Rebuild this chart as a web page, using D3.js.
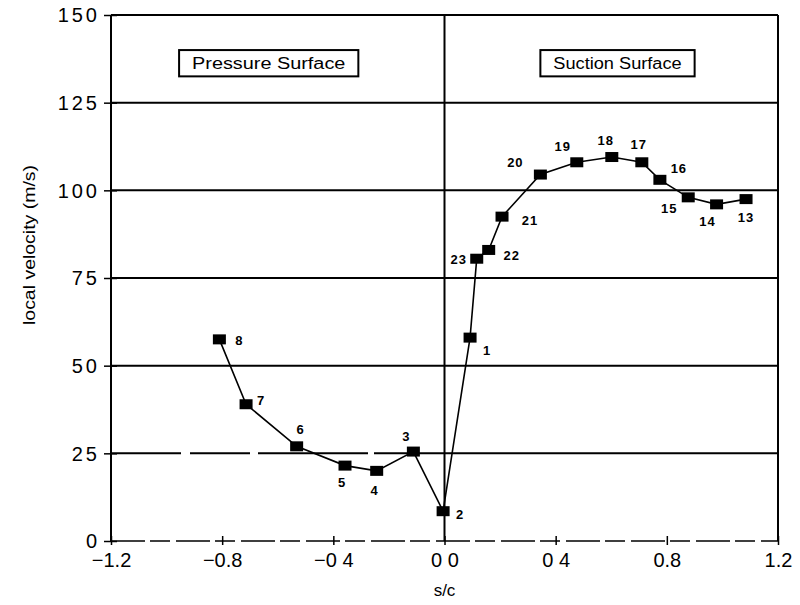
<!DOCTYPE html>
<html>
<head>
<meta charset="utf-8">
<script src="https://cdn.jsdelivr.net/npm/d3@7"></script>
<style>
  body { margin: 0; background: #fff; }
  svg { display: block; }
</style>
</head>
<body>
<script>
// chart data
var pointIds = [8, 7, 6, 5, 4, 3, 2, 1, 23, 22, 21, 20, 19, 18, 17, 16, 15, 14, 13];
var sOverC = [-0.810, -0.714, -0.532, -0.358, -0.244, -0.112, -0.005, 0.092, 0.116, 0.159, 0.207, 0.345, 0.476, 0.602, 0.710, 0.775, 0.877, 0.979, 1.085];
var velocity = [57.5, 39, 27, 21.5, 20, 25.5, 8.5, 58, 80.5, 83, 92.5, 104.5, 108, 109.5, 108, 103, 98, 96, 97.5];

// label offsets (dx, dy) for each point number
var labelOffsets = {
  8: [20, 1], 7: [15, -4], 6: [4, -17], 5: [-3, 17], 4: [-2, 19], 3: [-7, -15],
  2: [17, 3], 1: [17, 13], 23: [-18, 1], 22: [23, 5], 21: [28, 4], 20: [-25, -12],
  19: [-14, -16], 18: [-6, -17], 17: [-3, -18], 16: [19, -11], 15: [-19, 11],
  14: [-9, 17], 13: [0, 18]
};

var xTickValues = [-1.2, -0.8, -0.4, 0, 0.4, 0.8, 1.2];
var xTickLabels = ["\u22121.2", "\u22120.8", "\u22120 4", "0 0", "0 4", "0.8", "1.2"];
var yTickValues = [0, 25, 50, 75, 100, 125, 150];
var yTickLabels = ["0", "25", "50", "75", "100", "125", "150"];
var gridValues = [25, 50, 75, 100, 125];

var surfaceLabels = ["Pressure Surface", "Suction Surface"];

var svgWidth = 800;
var svgHeight = 605;

var margin = { top: 15, right: 22, bottom: 64, left: 111 };

var chartWidth = svgWidth - margin.left - margin.right;
var chartHeight = svgHeight - margin.top - margin.bottom;

var svg = d3.select("body")
  .append("svg")
  .attr("width", svgWidth)
  .attr("height", svgHeight);

var chartGroup = svg.append("g")
  .attr("transform", `translate(${margin.left}, ${margin.top})`);

var xScale = d3.scaleLinear()
  .domain([-1.2, 1.2])
  .range([0, chartWidth]);

var yScale = d3.scaleLinear()
  .domain([0, 150])
  .range([chartHeight, 0]);

// horizontal grid lines (the 25 line is broken in the scan)
chartGroup.selectAll(".grid")
  .data(gridValues)
  .enter()
  .append("line")
  .attr("class", "grid")
  .attr("x1", 0)
  .attr("x2", chartWidth)
  .attr("y1", d => yScale(d))
  .attr("y2", d => yScale(d))
  .attr("stroke", "#000")
  .attr("stroke-width", 2)
  .attr("stroke-dasharray", d => d == 25 ? "70 9 60 8 110 6 2000" : null);

// top border and right border
chartGroup.append("line")
  .attr("x1", 0).attr("x2", chartWidth)
  .attr("y1", yScale(150)).attr("y2", yScale(150))
  .attr("stroke", "#000").attr("stroke-width", 2);

chartGroup.append("line")
  .attr("x1", xScale(1.2)).attr("x2", xScale(1.2))
  .attr("y1", 0).attr("y2", chartHeight)
  .attr("stroke", "#000").attr("stroke-width", 2);

// vertical divider at s/c = 0
chartGroup.append("line")
  .attr("x1", xScale(0)).attr("x2", xScale(0))
  .attr("y1", 0).attr("y2", chartHeight)
  .attr("stroke", "#000").attr("stroke-width", 2);

// left axis
var leftAxis = d3.axisLeft(yScale)
  .tickValues(yTickValues)
  .tickSize(6)
  .tickFormat("");

var yAxisG = chartGroup.append("g").call(leftAxis);
yAxisG.select(".domain").attr("stroke-width", 2).attr("d", `M0,0V${chartHeight}`);
yAxisG.selectAll(".tick line").attr("x1", 6).attr("x2", -7).attr("stroke-width", 1.5);

chartGroup.selectAll(".ylab")
  .data(yTickValues)
  .enter()
  .append("text")
  .attr("class", "ylab")
  .attr("x", -11)
  .attr("y", d => yScale(d))
  .attr("dy", "0.36em")
  .attr("text-anchor", "end")
  .attr("font-family", "Liberation Sans, Arial, sans-serif")
  .attr("font-size", 20)
  .attr("letter-spacing", "3px")
  .text((d, i) => yTickLabels[i]);

// bottom axis
var bottomAxis = d3.axisBottom(xScale)
  .tickValues(xTickValues)
  .tickSize(5)
  .tickFormat((d, i) => xTickLabels[i]);

var xAxisG = chartGroup.append("g")
  .attr("transform", `translate(0, ${chartHeight})`)
  .call(bottomAxis);

xAxisG.select(".domain")
  .attr("d", `M0,0H${chartWidth}`)
  .attr("stroke-width", 1.5)
  .attr("stroke-dasharray", "34 5 20 6");
xAxisG.selectAll(".tick line").attr("y1", -5).attr("y2", 4).attr("stroke-width", 1.5);
xAxisG.selectAll(".tick text")
  .attr("y", 12)
  .attr("dy", "0.71em")
  .attr("font-family", "Liberation Sans, Arial, sans-serif")
  .attr("font-size", 20)
  .attr("fill", "#000");

// axis titles
svg.append("text")
  .attr("x", margin.left + xScale(0))
  .attr("y", 596)
  .attr("text-anchor", "middle")
  .attr("font-family", "Liberation Sans, Arial, sans-serif")
  .attr("font-size", 17)
  .text("s/c");

svg.append("text")
  .attr("transform", "translate(35, 245) rotate(-90)")
  .attr("text-anchor", "middle")
  .attr("font-family", "Liberation Sans Narrow, Liberation Sans, Arial, sans-serif")
  .attr("font-size", 16)
  .attr("textLength", 160)
  .attr("lengthAdjust", "spacingAndGlyphs")
  .text("local velocity  (m/s)");

// surface boxes
var boxes = [
  { x0: -0.955, x1: -0.31, label: surfaceLabels[0] },
  { x0: 0.345, x1: 0.9, label: surfaceLabels[1] }
];
var boxTop = 140;
var boxBottom = 132.5;

boxes.forEach(function (b) {
  chartGroup.append("rect")
    .attr("x", xScale(b.x0))
    .attr("y", yScale(boxTop))
    .attr("width", xScale(b.x1) - xScale(b.x0))
    .attr("height", yScale(boxBottom) - yScale(boxTop))
    .attr("fill", "#fff")
    .attr("stroke", "#000")
    .attr("stroke-width", 2);
  chartGroup.append("text")
    .attr("x", (xScale(b.x0) + xScale(b.x1)) / 2)
    .attr("y", (yScale(boxTop) + yScale(boxBottom)) / 2)
    .attr("dy", "0.36em")
    .attr("text-anchor", "middle")
    .attr("font-family", "Liberation Sans Narrow, Liberation Sans, Arial, sans-serif")
    .attr("font-size", 16)
    .attr("textLength", (xScale(b.x1) - xScale(b.x0)) - 26)
    .attr("lengthAdjust", "spacingAndGlyphs")
    .text(b.label);
});

// build point records
var points = pointIds.map(function (id, i) {
  return { id: id, s: sOverC[i], v: velocity[i] };
});

var line = d3.line()
  .x(d => xScale(d.s))
  .y(d => yScale(d.v));

chartGroup.append("path")
  .datum(points)
  .attr("d", line)
  .attr("fill", "none")
  .attr("stroke", "#000")
  .attr("stroke-width", 1.6);

chartGroup.selectAll(".marker")
  .data(points)
  .enter()
  .append("rect")
  .attr("class", "marker")
  .attr("x", d => xScale(d.s) - 6.5)
  .attr("y", d => yScale(d.v) - 5)
  .attr("width", 13)
  .attr("height", 10)
  .attr("fill", "#000");

chartGroup.selectAll(".ptlabel")
  .data(points)
  .enter()
  .append("text")
  .attr("class", "ptlabel")
  .attr("x", d => xScale(d.s) + labelOffsets[d.id][0])
  .attr("y", d => yScale(d.v) + labelOffsets[d.id][1])
  .attr("dy", "0.36em")
  .attr("text-anchor", "middle")
  .attr("font-family", "Liberation Sans, Arial, sans-serif")
  .attr("font-weight", "bold")
  .attr("font-size", 13)
  .attr("letter-spacing", "1px")
  .text(d => d.id);
</script>
</body>
</html>
